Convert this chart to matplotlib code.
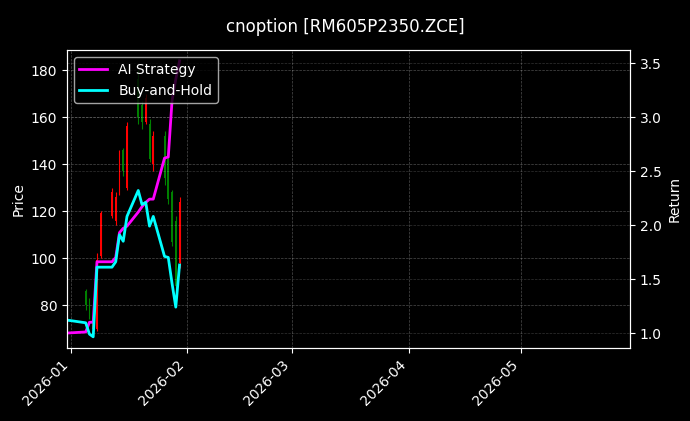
import numpy as np
import pandas as pd
import matplotlib
matplotlib.use('Agg')
import matplotlib.pyplot as plt
import matplotlib.dates as mdates

# K线数据 (交易日)
dates = ['2026-01-05', '2026-01-06', '2026-01-07', '2026-01-08', '2026-01-09',
         '2026-01-12', '2026-01-13', '2026-01-14', '2026-01-15', '2026-01-16',
         '2026-01-19', '2026-01-20', '2026-01-21', '2026-01-22', '2026-01-23',
         '2026-01-26', '2026-01-27', '2026-01-28', '2026-01-29', '2026-01-30']
opens  = [86, 82, 70, 70, 101, 118, 116, 128, 146, 130, 176, 165, 158, 157, 140, 152, 142, 128, 116, 98]
highs  = [87, 83, 75, 102, 120, 130, 128, 146, 147, 158, 180, 167, 170, 159, 154, 154, 144, 129, 118, 126]
lows   = [78, 74, 68, 69, 100, 117, 114, 127, 135, 129, 157, 155, 157, 141, 137, 131, 123, 105, 86, 96]
closes = [80, 77, 73, 99, 119, 128, 126, 144, 137, 156, 160, 158, 168, 142, 152, 134, 125, 107, 88, 124]

# 收益曲线 (起点 2025-12-31)
ret_dates = ['2025-12-31'] + dates
ai_ret = [1.00, 1.01, 1.10, 1.10, 1.66, 1.66, 1.66, 1.70, 1.93, 1.97, 1.99,
          2.12, 2.17, 2.21, 2.24, 2.24, 2.62, 2.63, 3.15, 3.35, 3.52]
bh_ret = [1.12, 1.095, 0.99, 0.965, 1.61, 1.61, 1.61, 1.66, 1.91, 1.85, 2.08,
          2.32, 2.19, 2.21, 1.99, 2.08, 1.71, 1.70, 1.46, 1.24, 1.63]

title = 'cnoption [RM605P2350.ZCE]'

plt.style.use('dark_background')
fig, ax1 = plt.subplots(figsize=(6.9, 4.21), dpi=100)
fig.subplots_adjust(left=0.097, right=0.913, top=0.881, bottom=0.173)

x = mdates.date2num(pd.to_datetime(dates))
o = np.array(opens); c = np.array(closes)
colors = np.where(c >= o, 'red', 'green')

# 画K线
ax1.vlines(x, lows, highs, colors=colors, linewidth=0.8)
ax1.bar(x, np.abs(c - o), bottom=np.minimum(o, c), width=0.5, color=colors)
ax1.set_ylabel('Price')
ax1.set_ylim(61.7, 188.5)
ax1.grid(True, linestyle='--', linewidth=0.5, alpha=0.3)

# 收益曲线
ax2 = ax1.twinx()
xr = mdates.date2num(pd.to_datetime(ret_dates))
ax2.plot(xr, ai_ret, color='magenta', linewidth=2, label='AI Strategy')
ax2.plot(xr, bh_ret, color='cyan', linewidth=2, label='Buy-and-Hold')
ax2.set_ylabel('Return')
ax2.set_ylim(0.86, 3.62)
ax2.grid(True, linestyle='--', linewidth=0.5, alpha=0.2)
ax2.legend(loc='upper left')

ax1.set_xlim(mdates.date2num(pd.Timestamp('2025-12-31')), mdates.date2num(pd.Timestamp('2026-05-30')))
ax1.xaxis.set_major_locator(mdates.MonthLocator())
ax1.xaxis.set_major_formatter(mdates.DateFormatter('%Y-%m'))
plt.setp(ax1.get_xticklabels(), rotation=45, ha='right')

fig.suptitle(title, fontsize=12, y=0.957)
plt.savefig('out.png', dpi=100)
